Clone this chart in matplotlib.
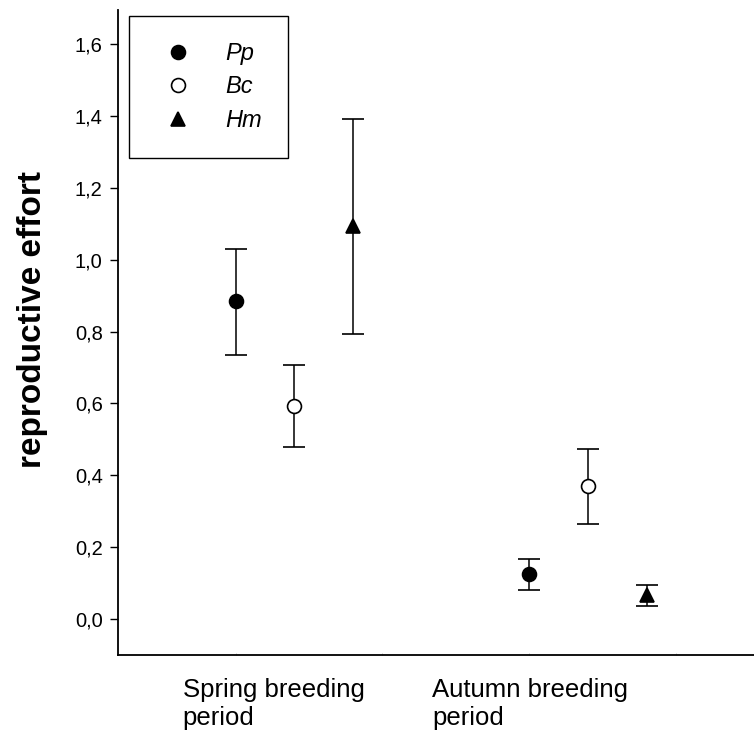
import matplotlib.pyplot as plt
from matplotlib.lines import Line2D
from matplotlib.ticker import FixedLocator

plt.rcParams['font.family'] = ['Liberation Sans', 'DejaVu Sans']

# Daten: Mittelwerte und Fehlerbalken (untere/obere Grenzen) je Art
species = ['Pp', 'Bc', 'Hm']
markers = ['o', 'o', '^']
facecolors = ['black', 'white', 'black']
x_pos = {'Pp': [1.0, 3.0], 'Bc': [1.4, 3.4], 'Hm': [1.8, 3.8]}
means = {'Pp': [0.885, 0.125], 'Bc': [0.593, 0.369], 'Hm': [1.095, 0.066]}
lower = {'Pp': [0.735, 0.080], 'Bc': [0.478, 0.264], 'Hm': [0.793, 0.036]}
upper = {'Pp': [1.030, 0.167], 'Bc': [0.707, 0.472], 'Hm': [1.392, 0.094]}
periods = ['Spring breeding\nperiod', 'Autumn breeding\nperiod']
period_x = [0.64, 2.34]
yticks = [0.0, 0.2, 0.4, 0.6, 0.8, 1.0, 1.2, 1.4, 1.6]

fig = plt.figure(figsize=(7.54, 7.31), dpi=100)
ax = fig.add_axes([118 / 754, 1 - 655 / 731, 1 - 118 / 754, 645 / 731])

handles = []
for sp, m, fc in zip(species, markers, facecolors):
    y = means[sp]
    err = [[a - b for a, b in zip(y, lower[sp])], [b - a for a, b in zip(y, upper[sp])]]
    ax.errorbar(x_pos[sp], y, yerr=err, fmt=m, mfc=fc, mec='black', mew=1.2,
                ms=10, ecolor='black', elinewidth=1.1, capsize=8, capthick=1.1,
                zorder=3)
    handles.append(Line2D([], [], ls='none', marker=m, mfc=fc, mec='black',
                          mew=1.2, ms=10, label=sp))

ax.set_xlim(0.2, 4.53)
ax.set_ylim(-0.1, 1.695)
ax.yaxis.set_major_locator(FixedLocator(yticks))
ax.set_yticklabels([f'{v:.1f}'.replace('.', ',') for v in yticks])
ax.tick_params(axis='y', direction='out', length=6, width=1, labelsize=14.5, pad=5)
ax.set_xticks([1, 2, 3, 4])
ax.set_xticklabels([])
ax.tick_params(axis='x', direction='in', length=1.5, width=0.6, color='#bbbbbb')

for s in ['top', 'right']:
    ax.spines[s].set_visible(False)
for s in ['left', 'bottom']:
    ax.spines[s].set_linewidth(1.3)

for px, lab in zip(period_x, periods):
    ax.text(px, -0.165, lab, ha='left', va='top', fontsize=18.5,
            linespacing=1.2, transform=ax.transData)

ax.set_ylabel('reproductive effort', fontsize=24, fontweight='bold')
ax.yaxis.set_label_coords(-0.11, 0.52)

leg = ax.legend(handles=handles, loc='upper left', bbox_to_anchor=(0.017, 0.991),
                frameon=True, fancybox=False, edgecolor='black', framealpha=1,
                prop={'style': 'italic', 'size': 17}, borderpad=1.1,
                handletextpad=1.0, labelspacing=0.45, borderaxespad=0,
                handlelength=2.0)
leg.get_frame().set_linewidth(1.0)

plt.savefig('out.png', dpi=100)
